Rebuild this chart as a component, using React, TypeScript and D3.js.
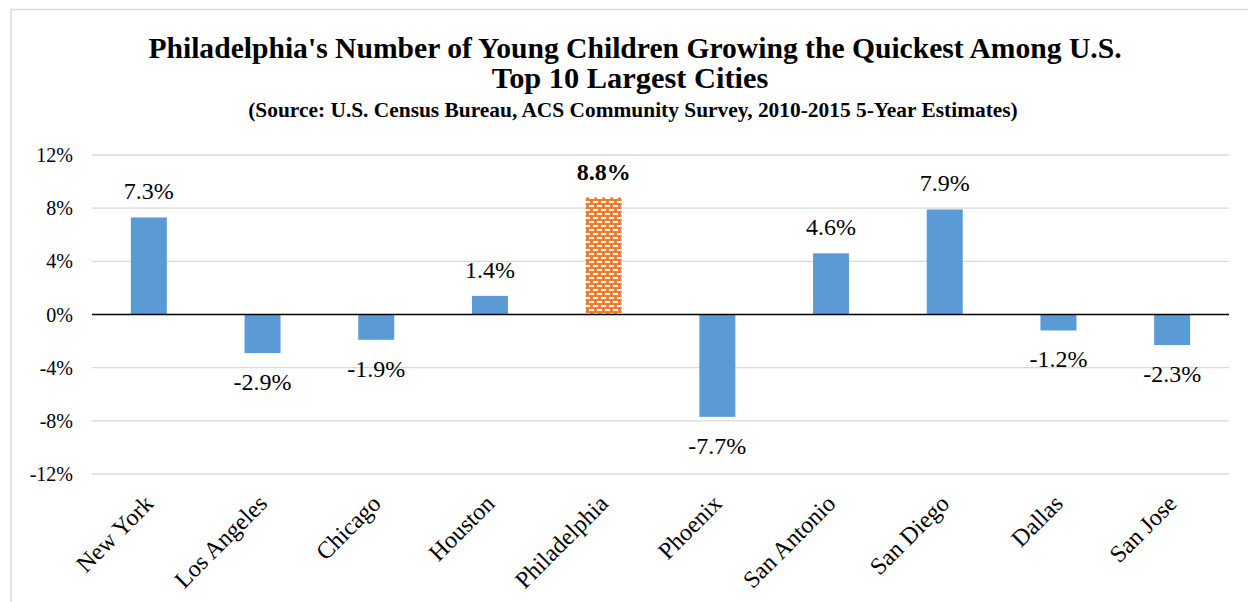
import React from "react";
import * as d3 from "d3";

const cities = ["New York", "Los Angeles", "Chicago", "Houston", "Philadelphia", "Phoenix", "San Antonio", "San Diego", "Dallas", "San Jose"];
const growth = [7.3, -2.9, -1.9, 1.4, 8.8, -7.7, 4.6, 7.9, -1.2, -2.3];
const highlight = "Philadelphia";
const yTicks = [-12, -8, -4, 0, 4, 8, 12];
const titleLines = ["Philadelphia's Number of Young Children Growing the Quickest Among U.S.", "Top 10 Largest Cities"];
const subtitle = "(Source: U.S. Census Bureau, ACS Community Survey, 2010-2015 5-Year Estimates)";

const W = 1248, H = 602;
const FONT = "'Liberation Serif', 'Times New Roman', serif";

export default function App() {
  const x = d3.scaleBand<string>().domain(cities).range([92, 1229]).paddingInner(0.68).paddingOuter(0.34);
  const y = d3.scaleLinear().domain([-12, 12]).range([474, 155]);
  const bw = 36;
  const cx = (c: string) => (x(c) as number) + x.bandwidth() / 2;

  return (
    <svg width={W} height={H} style={{ position: "absolute", left: 0, top: 0, background: "#fff" }} fontFamily={FONT}>
      <defs>
        <pattern id="brick" width={8} height={8} patternUnits="userSpaceOnUse">
          <rect width={8} height={8} fill="#ED7D31" />
          <rect x={1} y={1} width={5} height={2} fill="#fff" />
          <rect x={5} y={5} width={3} height={2} fill="#fff" />
          <rect x={0} y={5} width={2} height={2} fill="#fff" />
        </pattern>
      </defs>
      <rect x={11} y={9.5} width={W} height={H} fill="none" stroke="#d9d9d9" strokeWidth={1.5} />
      <text x={635} y={58} textAnchor="middle" fontWeight="bold" fontSize={29.6}>{titleLines[0]}</text>
      <text x={630} y={88} textAnchor="middle" fontWeight="bold" fontSize={30.4}>{titleLines[1]}</text>
      <text x={633} y={117} textAnchor="middle" fontWeight="bold" fontSize={21.4}>{subtitle}</text>
      {yTicks.map((t) => (
        <g key={t}>
          {t !== 0 && <line x1={92} x2={1229} y1={y(t)} y2={y(t)} stroke="#d9d9d9" strokeWidth={1.3} />}
          <text x={73} y={y(t) + 7} textAnchor="end" fontSize={20}>{`${t}%`}</text>
        </g>
      ))}
      {cities.map((c, i) => {
        const v = growth[i];
        const hi = c === highlight;
        const top = Math.min(y(v), y(0));
        const h = Math.abs(y(v) - y(0));
        return (
          <g key={c}>
            <rect x={cx(c) - bw / 2} y={top} width={bw} height={h} fill={hi ? "url(#brick)" : "#5B9BD5"} />
            <text x={cx(c)} y={v >= 0 ? y(v) - 18 : y(v) + 37} textAnchor="middle" fontSize={24} fontWeight={hi ? "bold" : "normal"}>
              {`${v.toFixed(1)}%`}
            </text>
            <text transform={`translate(${cx(c) + 6},${505}) rotate(-45)`} textAnchor="end" fontSize={24}>{c}</text>
          </g>
        );
      })}
      <line x1={92} x2={1229} y1={y(0)} y2={y(0)} stroke="#000" strokeWidth={1.3} />
    </svg>
  );
}
